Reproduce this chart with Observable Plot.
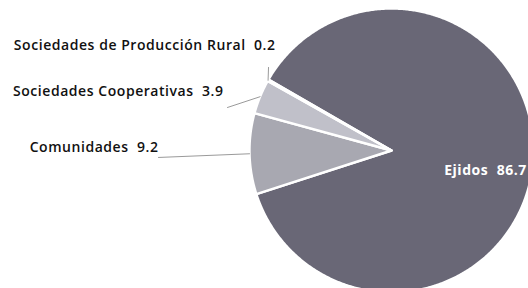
<!DOCTYPE html>
<html>
<head>
<meta charset="utf-8">
<script src="https://cdn.jsdelivr.net/npm/d3@7"></script>
<script src="https://cdn.jsdelivr.net/npm/@observablehq/plot@0.6"></script>
<style>
  html, body { margin: 0; padding: 0; background: #fff; }
  #chart { width: 528px; height: 288px; overflow: hidden; }
</style>
</head>
<body>
<div id="chart"></div>
<script>
// ---- data ----
const categories = ["Ejidos", "Comunidades", "Sociedades Cooperativas", "Sociedades de Producción Rural"];
const values = [86.7, 9.2, 3.9, 0.2];
const valueLabels = ["86.7", "9.2", "3.9", "0.2"];

// ---- styles / placement (not data) ----
const colors = ["#696776", "#a8a8b1", "#c0c0c9", "#6c6a76"];
const startDeg = 300;                       // clockwise from 12 o'clock
// label anchors in unit-radius coordinates (pie centre = 0,0, radius = 1)
const labelAt = [[0.662, -0.141], [-1.641, 0.021], [-1.183, 0.415], [-0.817, 0.739]];
const labelAnchor = ["middle", "end", "end", "end"];
const leaderFrom = [null, [-1.641, -0.049], [-1.155, 0.303], [-0.866, 0.585]];

const W = 528, H = 288, cx = 391, cy = 150, R = 142;

const total = d3.sum(values);
const rad = d => d * Math.PI / 180;
let acc = startDeg;
const slices = categories.map((name, i) => {
  const a0 = acc, a1 = acc + values[i] / total * 360;
  acc = a1;
  return {name, a0, a1, mid: (a0 + a1) / 2, i};
});

// polygon outline of each slice (centre + arc)
const pts = [];
for (const s of slices) {
  pts.push({name: s.name, x: 0, y: 0});
  const n = Math.max(2, Math.ceil((s.a1 - s.a0) / 0.5));
  for (let k = 0; k <= n; k++) {
    const a = rad(s.a0 + (s.a1 - s.a0) * k / n);
    pts.push({name: s.name, x: Math.sin(a), y: Math.cos(a)});
  }
}

const labels = slices.map(s => ({
  name: s.name,
  text: s.name + "  " + valueLabels[s.i],
  x: labelAt[s.i][0], y: labelAt[s.i][1],
  anchor: labelAnchor[s.i],
  fill: s.i === 0 ? "#ffffff" : "#111111"
}));

const leaders = [];
slices.forEach(s => {
  if (!leaderFrom[s.i]) return;
  const a = rad(s.mid);
  leaders.push({name: s.name, x: leaderFrom[s.i][0], y: leaderFrom[s.i][1]});
  leaders.push({name: s.name, x: Math.sin(a), y: Math.cos(a)});
});

const chart = Plot.plot({
  width: W, height: H,
  margin: 0,
  x: {domain: [(0 - cx) / R, (W - cx) / R], axis: null},
  y: {domain: [(cy - H) / R, cy / R], axis: null},
  color: {domain: categories, range: colors},
  style: {background: "#ffffff", fontFamily: "'Open Sans', sans-serif"},
  marks: [
    Plot.line(pts, {x: "x", y: "y", z: "name", fill: "name", stroke: "#ffffff", strokeWidth: 2.4, strokeLinejoin: "round", curve: "linear-closed"}),
    Plot.line(leaders, {x: "x", y: "y", z: "name", stroke: "#9a9a9a", strokeWidth: 1}),
    Plot.text(labels.filter(d => d.anchor === "end"), {x: "x", y: "y", text: "text", textAnchor: "end", fill: "fill", fontSize: 14, fontWeight: 600, style: "letter-spacing:0.55px"}),
    Plot.text(labels.filter(d => d.anchor === "middle"), {x: "x", y: "y", text: "text", textAnchor: "middle", fill: "fill", fontSize: 14, fontWeight: 700})
  ]
});
chart.querySelectorAll("text").forEach(t => t.style.letterSpacing = "0.55px");
document.getElementById("chart").appendChild(chart);
</script>
</body>
</html>
